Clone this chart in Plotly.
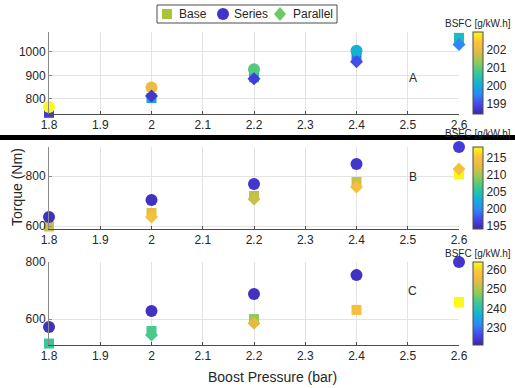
import plotly.graph_objects as go

W, H = 515, 388

boost = [1.8, 2.0, 2.2, 2.4, 2.6]
x_ticks = [1.8, 1.9, 2.0, 2.1, 2.2, 2.3, 2.4, 2.5, 2.6]
x_tick_labels = ["1.8", "1.9", "2", "2.1", "2.2", "2.3", "2.4", "2.5", "2.6"]

# Panel A
A_base_torque = [740, 803, 892, 975, 1060]
A_series_torque = [765, 848, 926, 1005, 1090]
A_parallel_torque = [732, 812, 885, 958, 1032]
A_base_bsfc = [198.8, 199.8, 200.2, 199.3, 200.3]
A_series_bsfc = [203.0, 202.1, 200.9, 200.1, 199.4]
A_parallel_bsfc = [198.6, 198.7, 198.8, 199.0, 199.5]

# Panel B
B_base_torque = [598, 652, 720, 776, 808]
B_series_torque = [636, 704, 768, 848, 916]
B_parallel_torque = [585, 636, 708, 756, 828]
B_base_bsfc = [211.5, 213.0, 211.0, 211.5, 218.0]
B_series_bsfc = [195.0, 195.0, 195.5, 195.5, 196.0]
B_parallel_bsfc = [214.5, 214.5, 211.3, 214.5, 214.5]

# Panel C
C_base_torque = [514, 558, 600, 632, 660]
C_series_torque = [572, 628, 688, 754, 800]
C_parallel_torque = [502, 544, 585, None, None]
C_base_bsfc = [242.5, 243.5, 248.5, 257.5, 264.0]
C_series_bsfc = [223.0, 223.0, 223.0, 223.0, 223.5]
C_parallel_bsfc = [242.5, 243.5, 253.7, None, None]

parula = [
    [0.0, "#3E26A8"], [0.111, "#4743E8"], [0.238, "#2D87F7"], [0.365, "#12B1D6"],
    [0.5, "#37C897"], [0.635, "#91CB54"], [0.762, "#E3BB45"], [0.873, "#FBC13A"],
    [1.0, "#F9FB15"],
]

TXT = "#262626"
FONT = "Liberation Sans, Arial, sans-serif"


def px_x(p):
    return p / W


def px_y(p):
    return 1 - p / H


panels = [
    dict(name="A", base=(A_base_torque, A_base_bsfc), series=(A_series_torque, A_series_bsfc),
         par=(A_parallel_torque, A_parallel_bsfc), top=32, bot=114, yr=[735, 1085], yt=[800, 900, 1000],
         cr=[198.4, 203.0], ct=[199, 200, 201, 202], lbl_y=889, title_y=23),
    dict(name="B", base=(B_base_torque, B_base_bsfc), series=(B_series_torque, B_series_bsfc),
         par=(B_parallel_torque, B_parallel_bsfc), top=147, bot=229, yr=[588, 916], yt=[600, 800],
         cr=[194.0, 218.2], ct=[195, 200, 205, 210, 215], lbl_y=796, title_y=133),
    dict(name="C", base=(C_base_torque, C_base_bsfc), series=(C_series_torque, C_series_bsfc),
         par=(C_parallel_torque, C_parallel_bsfc), top=262, bot=345, yr=[509, 800], yt=[600, 800],
         cr=[221.0, 264.0], ct=[230, 240, 250, 260], lbl_y=698, title_y=253),
]

fig = go.Figure()
layout = dict(
    width=W, height=H, margin=dict(l=0, r=0, t=0, b=0, autoexpand=False),
    paper_bgcolor="white", plot_bgcolor="white", showlegend=False,
    font=dict(family=FONT, size=12, color=TXT),
    annotations=[], shapes=[],
)


def ann(text, x, y, size=12, **kw):
    d = dict(text=text, x=x, y=y, xref="paper", yref="paper", showarrow=False,
             xanchor="center", yanchor="middle", font=dict(size=size, color=TXT))
    d.update(kw)
    return d


x0p, x1p = 49, 459
for i, p in enumerate(panels, start=1):
    sfx = "" if i == 1 else str(i)
    xa, ya, ca = "x" + sfx, "y" + sfx, "coloraxis" + sfx
    for (tq, bs), sym, size in [(p["base"], "square", 10), (p["series"], "circle", 12), (p["par"], "diamond", 10)]:
        keep = [k for k in range(len(boost)) if tq[k] is not None and bs[k] is not None]
        fig.add_trace(go.Scatter(
            x=[boost[k] for k in keep], y=[tq[k] for k in keep], mode="markers",
            xaxis=xa, yaxis=ya, cliponaxis=False,
            marker=dict(symbol=sym, size=size, color=[bs[k] for k in keep], coloraxis=ca, line=dict(width=0)),
        ))
    layout["xaxis" + sfx] = dict(
        domain=[px_x(x0p), px_x(x1p)], range=[1.8, 2.6], anchor=ya,
        tickvals=x_ticks, ticktext=x_tick_labels, showgrid=True, gridcolor="#E3E3E3",
        showline=True, linecolor="#4D4D4D", linewidth=1, zeroline=False,
        ticks="inside", ticklen=3, tickcolor="#4D4D4D", tickfont=dict(size=12, color=TXT),
    )
    layout["yaxis" + sfx] = dict(
        domain=[px_y(p["bot"]), px_y(p["top"])], range=p["yr"], anchor=xa,
        tickvals=p["yt"], showgrid=True, gridcolor="#E3E3E3",
        showline=True, linecolor="#8A8A8A", linewidth=1, zeroline=False,
        ticks="inside", ticklen=3, tickcolor="#8A8A8A", tickfont=dict(size=12, color=TXT),
    )
    layout[ca] = dict(
        colorscale=parula, cmin=p["cr"][0], cmax=p["cr"][1],
        colorbar=dict(
            x=px_x(473), xanchor="left", xpad=0, thickness=10, thicknessmode="pixels",
            y=px_y(p["bot"]), yanchor="bottom", ypad=0, len=(p["bot"] - p["top"]) / H, lenmode="fraction",
            tickvals=p["ct"], ticks="", outlinewidth=1, outlinecolor="#4D4D4D",
            tickfont=dict(size=12, color=TXT),
        ),
    )
    layout["annotations"].append(dict(
        text=p["name"], x=2.51, y=p["lbl_y"], xref=xa, yref=ya, showarrow=False,
        xanchor="center", yanchor="middle", font=dict(size=12, color=TXT),
    ))
    layout["annotations"].append(ann("BSFC [g/kW.h]", px_x(478), px_y(p["title_y"]), size=10))

# Axis titles
layout["annotations"].append(ann("Torque (Nm)", px_x(17), px_y(187), size=14, textangle=-90))
layout["annotations"].append(ann("Boost Pressure (bar)", px_x(272), px_y(377), size=14))

# Thick black separator line
layout["shapes"].append(dict(
    type="rect", xref="paper", yref="paper", x0=0, x1=1, y0=px_y(140), y1=px_y(135),
    fillcolor="black", line=dict(width=0), layer="above",
))

# Manual legend
layout["shapes"].append(dict(
    type="rect", xref="paper", yref="paper", x0=px_x(157), x1=px_x(337), y0=px_y(23), y1=px_y(5),
    fillcolor="white", line=dict(color="#4D4D4D", width=1),
))
cy = 14
layout["shapes"].append(dict(
    type="rect", xref="paper", yref="paper", x0=px_x(162), x1=px_x(172), y0=px_y(cy + 5), y1=px_y(cy - 5),
    fillcolor="#A9C33A", line=dict(width=0),
))
layout["shapes"].append(dict(
    type="circle", xref="paper", yref="paper", x0=px_x(217), x1=px_x(229), y0=px_y(cy + 6), y1=px_y(cy - 6),
    fillcolor="#4433C8", line=dict(width=0),
))
layout["shapes"].append(dict(
    type="path", xref="paper", yref="paper",
    path=f"M {px_x(280)} {px_y(cy-7)} L {px_x(286)} {px_y(cy)} L {px_x(280)} {px_y(cy+7)} L {px_x(274)} {px_y(cy)} Z",
    fillcolor="#6ACB62", line=dict(width=0),
))
for t, xl in [("Base", 177), ("Series", 232), ("Parallel", 291)]:
    layout["annotations"].append(ann(t, px_x(xl), px_y(cy), xanchor="left"))

fig.update_layout(**layout)
fig.write_html("out.html")
